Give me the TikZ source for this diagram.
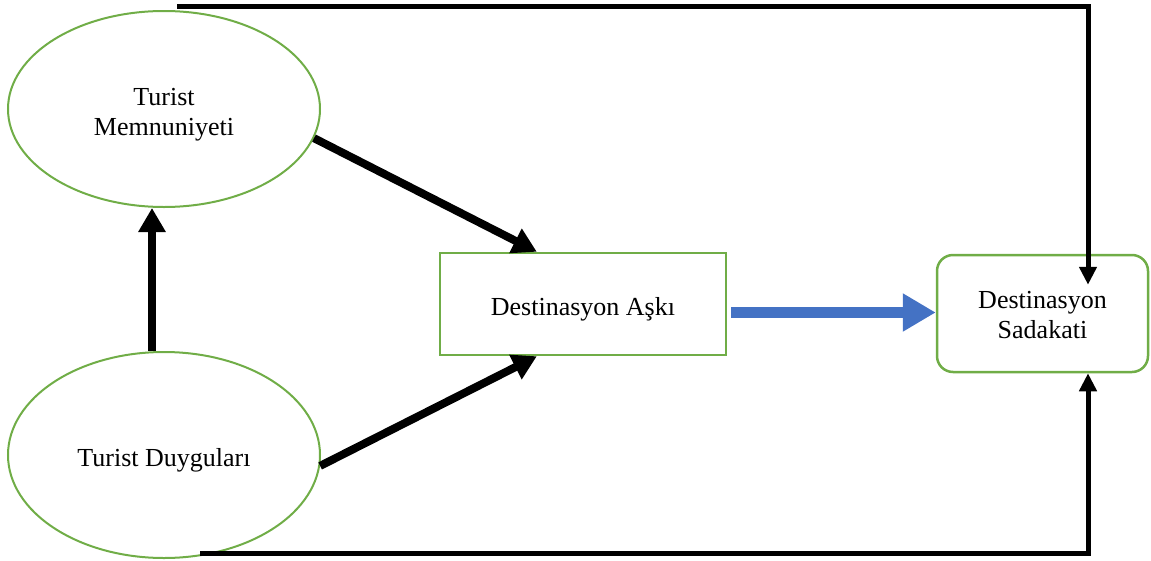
\documentclass[tikz,border=0pt]{standalone}
\usepackage{fontspec}
\setmainfont{Liberation Serif}
\usetikzlibrary{shapes.geometric,arrows.meta,calc}
\definecolor{grn}{HTML}{70AD47}
\definecolor{blu}{HTML}{4472C4}
\begin{document}
\begin{tikzpicture}[x=1pt,y=-1pt,
  lbl/.style={font=\fontsize{26}{30}\selectfont, align=center, inner sep=0pt},
  oval/.style={ellipse, draw=grn, line width=2pt, inner sep=0pt},
  box/.style={rectangle, draw=grn, line width=2.5pt, inner sep=0pt},
  bigarrow/.style={line width=8pt, -{Triangle[width=26pt,length=24pt]}},
  bluearrow/.style={line width=11pt, draw=blu, -{Triangle[width=36pt,length=33pt]}},
  link/.style={line width=5pt, -{Triangle[width=17pt,length=18pt]}}
  ]
\useasboundingbox (0,0) rectangle (1151,560);
\node[oval, minimum width=312pt, minimum height=196pt] (tm) at (164,109) {};
\node[lbl] (tmt) at (164,115) {Turist\\Memnuniyeti};
\node[oval, minimum width=312pt, minimum height=206pt] (td) at (164,455) {};
\node[lbl] (tdt) at (164,460) {Turist Duyguları};
\node[box, minimum width=286pt, minimum height=102pt] (da) at (583,304) {};
\node[lbl] (dat) at (583,309) {Destinasyon Aşkı};
\node[box, rounded corners=16pt, minimum width=211pt, minimum height=117pt] (ds) at (1042.5,313.5) {};
\node[lbl] (dst) at (1042.5,315.5) {Destinasyon\\Sadakati};
\draw[bigarrow] (tm.-11) -- ($(da.north west)!0.34!(da.north east)$);
\draw[bigarrow] (td.-4) -- ($(da.south west)!0.34!(da.south east)$);
\draw[bigarrow] ([xshift=-12pt]td.north) -- ([xshift=-12pt]tm.south);
\draw[bluearrow] ($(da.east |- ds.west)+(4,-1)$) -- ($(ds.west)+(0,-1)$);
\draw[link] ($(tm.north)+(13,-4)$) -| ($(ds.north)+(45.5,31)$);
\draw[link] ($(td.south)+(36,-6)$) -| ($(ds.south)+(45.5,0)$);
\end{tikzpicture}
\end{document}
